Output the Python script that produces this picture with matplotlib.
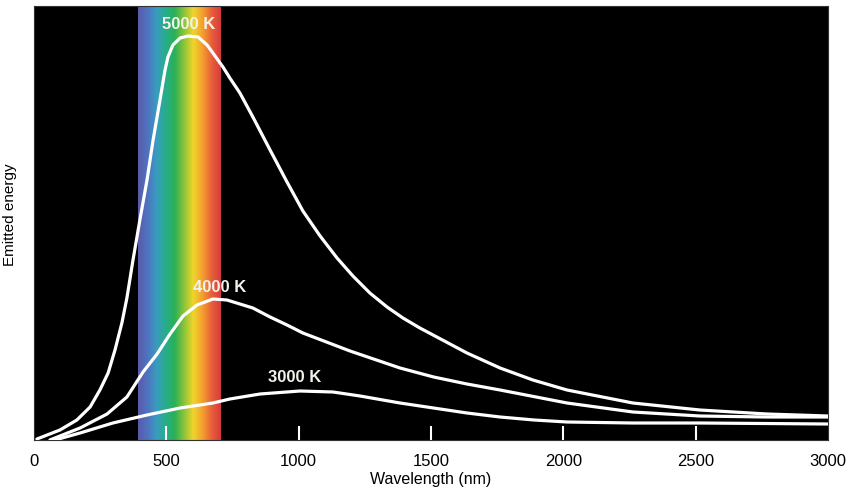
import numpy as np
import matplotlib
matplotlib.use("Agg")
import matplotlib.pyplot as plt
from matplotlib.colors import LinearSegmentedColormap

plt.rcParams['font.family'] = ['Liberation Sans', 'DejaVu Sans']

# кривые излучения, значения (длина волны в нм, энергия в условных единицах)
wl_5000 = [11, 98, 162, 212, 249, 280, 306, 332, 351, 374, 400, 427, 450, 476, 495,
           506, 525, 552, 582, 620, 654, 676, 703, 714, 740, 778, 827, 892, 956, 1016,
           1081, 1145, 1205, 1269, 1334, 1394, 1458, 1636, 1761, 1885, 2014, 2263,
           2516, 2769, 3000]
e_5000 = [1, 10, 20, 33, 50, 67, 90, 117, 142, 180, 220, 260, 300, 340, 370,
          383, 395, 402, 404, 403, 395, 387, 377, 373, 362, 347, 323, 290, 258, 229,
          204, 182, 164, 147, 133, 122, 112, 87, 72, 60, 50, 37,
          30, 26, 24]

wl_4000 = [60, 174, 276, 351, 412, 465, 514, 563, 616, 676, 729, 827, 892, 956,
           1016, 1194, 1383, 1510, 1636, 1761, 2014, 2263, 2516, 2769, 3000]
e_4000 = [0, 12, 26, 43, 68, 86, 106, 124, 135, 141, 140, 132, 123, 115,
          107, 89, 72, 63, 56, 50, 37, 28, 24, 23, 23]

wl_3000 = [79, 174, 298, 427, 552, 676, 740, 854, 1005, 1130, 1232, 1383, 1636,
           1761, 1890, 2014, 2263, 2516, 3000]
e_3000 = [0, 7, 17, 25, 32, 37, 41, 46, 49, 48, 44, 37, 27,
          23, 20, 18, 17, 17, 16]

curves = [(wl_5000, e_5000), (wl_4000, e_4000), (wl_3000, e_3000)]
curve_labels = ['5000 K', '4000 K', '3000 K']
label_pos = [(586, 416), (703, 153), (986, 63)]

xticks = [0, 500, 1000, 1500, 2000, 2500, 3000]
visible_band = (393, 703)
spectrum_colors = ['#5b5aa8', '#4f72c0', '#3a9cc0', '#27ad8a', '#2bb155', '#8cc43a',
                   '#efd52a', '#f4a02e', '#e8603a', '#d63b3d']

fig = plt.figure(figsize=(8.46, 4.93), dpi=100)
ax = fig.add_axes([0.0402, 0.1075, 0.9385, 0.8803])
ax.set_facecolor('black')
ax.set_xlim(0, 3000)
ax.set_ylim(0, 434)

# полоса видимого спектра
cmap = LinearSegmentedColormap.from_list('spec', spectrum_colors)
grad = np.linspace(0, 1, 256).reshape(1, -1)
ax.imshow(grad, cmap=cmap, aspect='auto', extent=(visible_band[0], visible_band[1], 0, 434),
          zorder=1)

for (wl, e) in curves:
    ax.plot(wl, e, color='white', linewidth=2.3, solid_joinstyle='round',
            solid_capstyle='round', zorder=3)

for txt, (x, y) in zip(curve_labels, label_pos):
    ax.text(x, y, txt, color='#f2f2ea', fontsize=12, fontweight='bold',
            ha='center', va='center', zorder=4)

ax.set_xticks(xticks)
ax.set_xticklabels([str(t) for t in xticks], fontsize=12)
ax.tick_params(axis='x', direction='in', color='white', length=10, width=1.5, pad=10)
ax.xaxis.get_major_ticks()[0].tick1line.set_visible(False)
ax.xaxis.get_major_ticks()[-1].tick1line.set_visible(False)
ax.set_yticks([])
for s in ax.spines.values():
    s.set_color('#333333')

ax.set_xlabel('Wavelength (nm)', fontsize=11.5, labelpad=2)
ax.set_ylabel('Emitted energy', fontsize=11)
ax.yaxis.set_label_coords(-0.021, 0.52)

fig.savefig('out.png', dpi=100, facecolor='white')
